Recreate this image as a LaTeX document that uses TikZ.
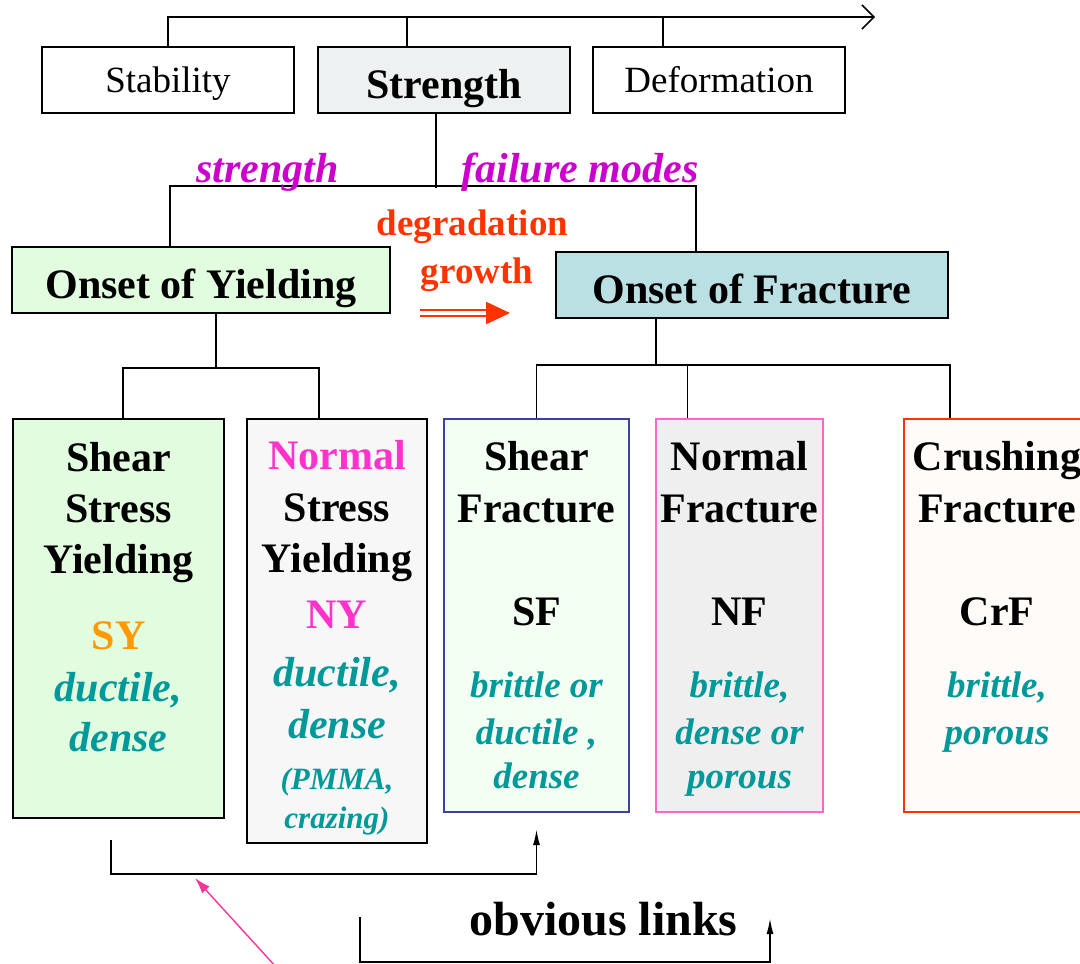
\documentclass[tikz,border=0pt]{standalone}
\usepackage{fontspec}
\setmainfont{Liberation Serif}
\usetikzlibrary{arrows.meta}

\definecolor{strgray}{RGB}{238,241,242}
\definecolor{yieldgreen}{RGB}{226,252,224}
\definecolor{fracblue}{RGB}{186,224,228}
\definecolor{nygray}{RGB}{247,247,247}
\definecolor{sfgreen}{RGB}{244,255,244}
\definecolor{sfblue}{RGB}{64,64,160}
\definecolor{nfgray}{RGB}{239,239,239}
\definecolor{nfpink}{RGB}{255,102,204}
\definecolor{crfcream}{RGB}{255,251,248}
\definecolor{crfred}{RGB}{255,51,0}
\definecolor{modemag}{RGB}{204,0,204}
\definecolor{degred}{RGB}{255,51,0}
\definecolor{propteal}{RGB}{0,153,153}
\definecolor{syorange}{RGB}{255,153,0}
\definecolor{nymag}{RGB}{255,51,204}
\definecolor{linkpink}{RGB}{255,51,153}

% text of the failure mode boxes
\newcommand{\modetext}[3]{\parbox[t][#2][t]{#1}{\centering\fontsize{21}{25.5}\selectfont\bfseries #3}}
\newcommand{\prop}[1]{{\color{propteal}\itshape #1}}
\newcommand{\propsm}[1]{{\fontsize{18.5}{25.5}\selectfont\color{propteal}\itshape #1}}
\newcommand{\propxs}[1]{{\fontsize{15.5}{25.5}\selectfont\color{propteal}\itshape #1}}

\begin{document}
\begin{tikzpicture}[x=0.5pt, y=-0.5pt,
    topbox/.style={draw, line width=1pt, minimum width=126pt, minimum height=33pt, inner sep=0pt, text height=13pt, text depth=0pt, font=\fontsize{18.5}{22}\selectfont},
    onset/.style={draw, line width=1pt, minimum height=33pt, inner sep=0pt, text height=18pt, text depth=0pt, font=\fontsize{21}{25}\selectfont\bfseries},
    modebox/.style={draw, line width=1pt, inner sep=0pt, anchor=north west},
    tree/.style={line width=0.8pt},
    modelabel/.style={anchor=base, text=modemag, font=\fontsize{21}{25}\selectfont\bfseries\itshape},
    growlabel/.style={anchor=base, text=degred, font=\fontsize{18.5}{22}\selectfont\bfseries},
    link/.style={line width=0.9pt, -{Latex[length=8pt, width=3.5pt]}},
    growarrow/.style={draw=degred, line width=1.1pt, double=white, double distance=2pt, -{Triangle[length=12pt, width=11pt]}},
    pinkarrow/.style={draw=linkpink, line width=0.7pt, -{Latex[length=8pt, width=5pt]}}]

    \useasboundingbox (0,0) rectangle (1080,963);

    % Draw the top row
    \node[topbox] (stab) at (168,80) {Stability};
    \node[topbox, fill=strgray, text height=18pt, font=\fontsize{21}{25}\selectfont\bfseries] (str) at (444,80) {Strength};
    \node[topbox] (def) at (719,80) {Deformation};
    \coordinate (axisend) at (875,17);
    \draw[tree, -{Straight Barb[length=6pt, width=12pt]}] (stab.north) |- (axisend);
    \draw[tree] ([xshift=-18.5pt]str.north) -- ([xshift=-18.5pt]str.north |- axisend);
    \draw[tree] ([xshift=-28pt]def.north) -- ([xshift=-28pt]def.north |- axisend);

    % Draw the onsets
    \node[onset, minimum width=189pt, fill=yieldgreen] (oy) at (201,280) {Onset of Yielding};
    \node[onset, minimum width=196pt, fill=fracblue] (of) at (752,285) {Onset of Fracture};
    \draw[tree] ([xshift=-4pt]str.south) -- ++(0,74);
    \draw[tree] ([xshift=-15.5pt]oy.north) -- ++(0,-60) -| ([xshift=-28pt]of.north);
    \node[modelabel] (lstr) at (267.5,182) {strength};
    \node[modelabel] (lfail) at (580,182) {failure modes};

    % degradation growth
    \node[growlabel] (ldeg) at (472.5,235) {degradation};
    \node[growlabel] (lgrow) at (477,283) {growth};
    \coordinate (grow1) at (420,313);
    \coordinate (grow2) at (510,313);
    \draw[growarrow] (grow1) -- (grow2);

    % Draw the failure modes
    \node[modebox, fill=yieldgreen] (sy) at (12,418) {\modetext{105.5pt}{199.5pt}{%
        \rule{0pt}{26pt}Shear\\ Stress\\ Yielding\\[12.5pt]
        {\color{syorange}SY}\\[0.5pt] \prop{ductile,}\\[-0.5pt] \prop{dense}}};
    \node[modebox, fill=nygray] (ny) at (246,418) {\modetext{90pt}{212pt}{%
        \rule{0pt}{25pt}{\color{nymag}Normal}\\[0.5pt] Stress\\ Yielding\\[2.5pt]
        {\color{nymag}NY}\\[3.5pt] \prop{ductile,}\\[0.5pt] \prop{dense}\\
        \propxs{(PMMA,}\\[-6pt] \propxs{crazing)}}};
    \node[modebox, draw=sfblue, fill=sfgreen] (sf) at (443,418) {\modetext{92.5pt}{196.5pt}{%
        \rule{0pt}{25.5pt}Shear\\[0.5pt] Fracture\\[26pt] SF\\[10.5pt]
        \propsm{brittle or}\\[-2pt] \propsm{ductile ,}\\[-3.5pt] \propsm{dense}}};
    \node[modebox, draw=nfpink, fill=nfgray] (nf) at (655,418) {\modetext{83.5pt}{196.5pt}{%
        \rule{0pt}{25.5pt}Normal\\[0.5pt] Fracture\\[26pt] NF\\[10.5pt]
        \propsm{brittle,}\\[-2pt] \propsm{dense or}\\[-3.5pt] \propsm{porous}}};
    \node[modebox, draw=crfred, fill=crfcream] (crf) at (903,418) {\modetext{93pt}{196.5pt}{%
        \rule{0pt}{25.5pt}Crushing\\[0.5pt] Fracture\\[26pt] CrF\\[10.5pt]
        \propsm{brittle,}\\[-2pt] \propsm{porous}}};

    % Draw connections
    \draw[tree] ([xshift=7.5pt]oy.south) -- ++(0,55);
    \draw[tree] ([xshift=2.25pt]sy.north) -- ++(0,-50) -| ([xshift=-9pt]ny.north);
    \draw[tree] ([xshift=-48pt]of.south) -- ++(0,47);
    \draw[tree] (sf.north) -- ++(0,-53) -| ([xshift=-23.5pt]crf.north);
    \draw[tree] ([xshift=-26pt]nf.north) -- ++(0,-53);

    % obvious links
    \draw[link] ([xshift=-3.75pt, yshift=-10.5pt]sy.south) -- ++(0,34) -| ([yshift=-8pt]sf.south);
    \coordinate (lk1) at (360,917);
    \coordinate (lk2) at (770,918);
    \draw[link] (lk1) -- ++(0,45) -| (lk2);
    \node[anchor=base, font=\fontsize{24}{28}\selectfont\bfseries] (obv) at (603.5,935) {obvious links};
    \coordinate (pinktail) at (277,968);
    \coordinate (pinkhead) at (195,878);
    \draw[pinkarrow] (pinktail) -- (pinkhead);

\end{tikzpicture}
\end{document}
